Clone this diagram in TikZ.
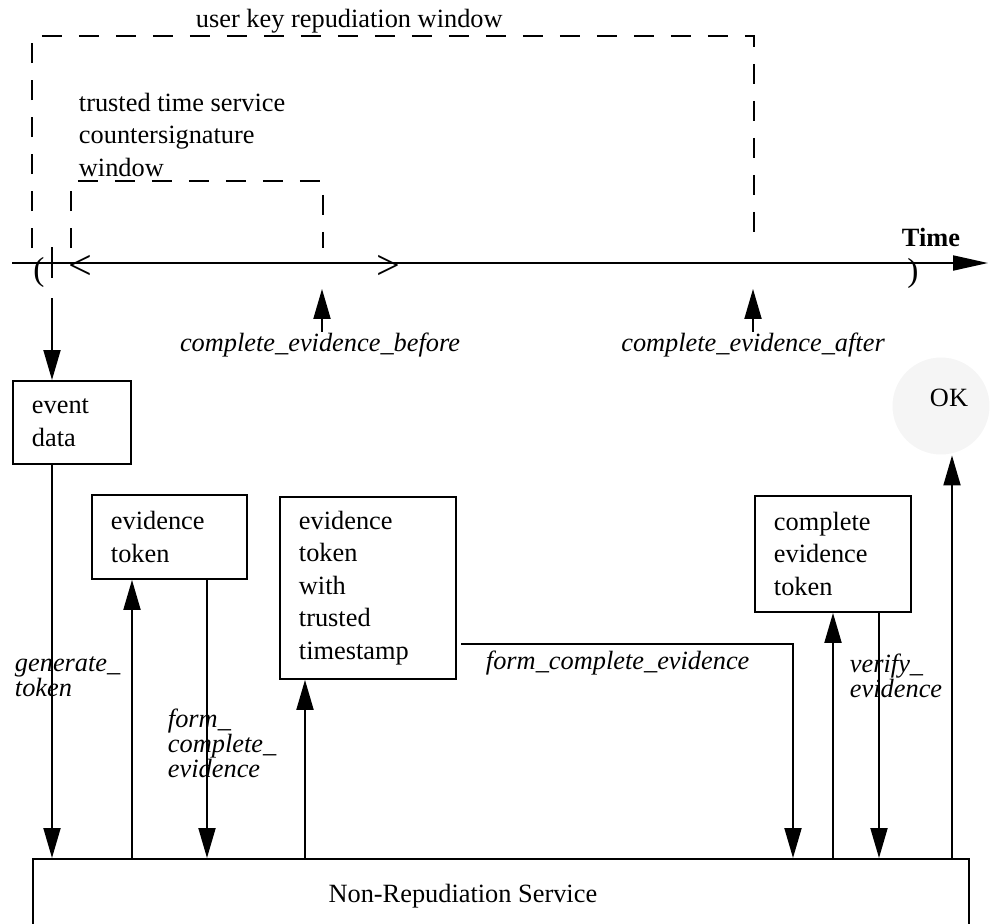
\documentclass[tikz,border=0pt]{standalone}
\usepackage{fontspec}
\setmainfont{Liberation Serif}
\usetikzlibrary{arrows.meta}

\begin{document}
\begin{tikzpicture}[x=0.02cm, y=-0.02cm, line width=1.1pt,
	every node/.style={font=\fontsize{15}{18.5}\selectfont, inner sep=0pt},
	>={Triangle[length=0.6cm, width=0.34cm]},
	box/.style={draw, anchor=north west, align=left, inner xsep=0.38cm},
	lab/.style={font=\fontsize{15}{14.2}\selectfont\itshape, align=left},
	win/.style={dash pattern=on 0.4cm off 0.34cm}]
	\useasboundingbox (0,0) rectangle (997,923);
	% time axis
	\coordinate (t0) at (12,263);
	\coordinate (t1) at (988,263);
	\draw[-{Triangle[length=0.7cm, width=0.3cm]}] (t0) -- (t1);
	\node[font=\fontsize{15}{18}\selectfont\bfseries] (time) at (931,237) {Time};
	\node[font=\fontsize{19}{19}\selectfont] (lp) at (39,272) {(};
	\node[font=\fontsize{19}{19}\selectfont] (rp) at (913,273) {)};
	\node[font=\fontsize{24}{24}\selectfont] (lt) at (80,267) {<};
	\node[font=\fontsize{24}{24}\selectfont] (gt) at (388,267) {>};
	\draw (52,247) -- (52,278);
	% windows
	\draw[win] (32,248) |- (754,36) -- (754,248);
	\draw[win] (71,248) |- (323,181) -- (323,248);
	\node[anchor=base west] (ukw) at (195,27) {user key repudiation window};
	\node[anchor=north west, align=left] (tsw) at (78,92) {trusted time service\\countersignature\\window};
	\node[lab] (ceb) at (320,345) {complete\_evidence\_before};
	\node[lab] (cea) at (753,345) {complete\_evidence\_after};
	\draw[->] (ceb.north -| 322,0) -- ++(0,-43);
	\draw[->] (cea.north) -- ++(0,-43);
	% boxes
	\node[box, minimum width=2.36cm, minimum height=1.66cm, text width=1.6cm] (event) at (12,380) {event\\data};
	\node[box, minimum width=3.1cm, minimum height=1.68cm, text width=2.34cm] (evtok) at (91,494) {evidence\\token};
	\node[box, minimum width=3.52cm, minimum height=3.64cm, text width=2.76cm] (ets) at (279,496) {evidence\\token\\with\\trusted\\timestamp};
	\node[box, minimum width=3.12cm, minimum height=2.32cm, text width=2.36cm] (cet) at (754,495) {complete\\evidence\\token};
	\node[draw, anchor=north west, minimum width=18.72cm, minimum height=1.48cm,
		label={[xshift=-0.76cm]center:Non-Repudiation Service}] (nrs) at (32,858) {};
	\node[circle, fill=gray!8, minimum size=1.94cm,
		label={[xshift=0.16cm, yshift=0.16cm]center:OK}] (ok) at (941,406) {};
	% flows
	\coordinate (tk) at (52,298);
	\coordinate (fc) at (461,644);
	\draw[->] (tk) -- (event.north -| tk);
	\draw[->] (event.south -| tk) -- (nrs.north -| tk);
	\draw[->] (nrs.north -| 132,0) -- (evtok.south -| 132,0);
	\draw[->] (evtok.south -| 207,0) -- (nrs.north -| 207,0);
	\draw[->] (nrs.north -| 305,0) -- (ets.south -| 305,0);
	\draw[->] (fc) -| (nrs.north -| 793,0);
	\draw[->] (nrs.north -| 833,0) -- (cet.south -| 833,0);
	\draw[->] (cet.south -| 879,0) -- (nrs.north -| 879,0);
	\draw[->] (nrs.north -| 952,0) -- (ok.south -| 952,0);
	\node[lab, anchor=west] (gen) at (14,677) {generate\_\\token};
	\node[lab, anchor=west] (fce1) at (167,743) {form\_\\complete\_\\evidence};
	\node[lab, anchor=west] (fce2) at (485,663) {form\_complete\_evidence};
	\node[lab, anchor=west] (ver) at (849,676) {verify\_\\evidence};
\end{tikzpicture}
\end{document}
